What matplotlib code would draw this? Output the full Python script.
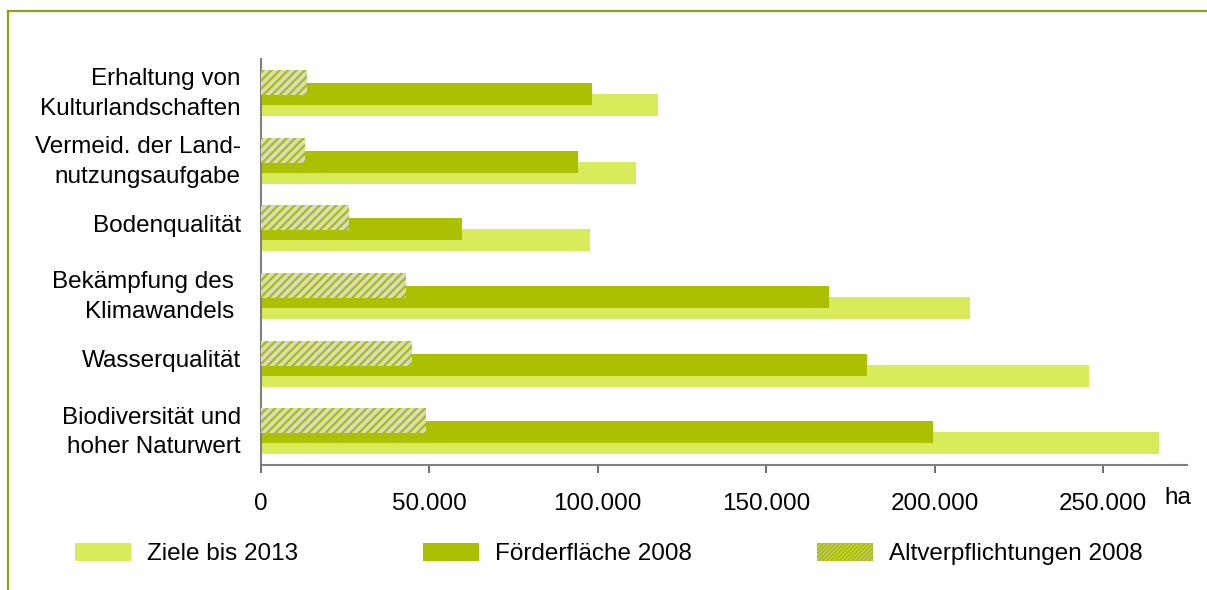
import matplotlib
matplotlib.use('Agg')
import matplotlib.pyplot as plt
from matplotlib.patches import Patch
from matplotlib.lines import Line2D
from matplotlib.ticker import FuncFormatter
from matplotlib.transforms import ScaledTranslation

# Data (ha)
categories = ['Erhaltung von\nKulturlandschaften',
              'Vermeid. der Land-\nnutzungsaufgabe',
              'Bodenqualität',
              'Bekämpfung des \nKlimawandels ',
              'Wasserqualität',
              'Biodiversität und\nhoher Naturwert']
ziele_2013 = [118000, 111300, 97700, 210500, 245800, 266600]
foerder_2008 = [98300, 94100, 59700, 168700, 179900, 199500]
altverpf_2008 = [13700, 13100, 26100, 43000, 44800, 49000]
series_labels = ['Ziele bis 2013', 'Förderfläche 2008', 'Altverpflichtungen 2008']
xticks = [0, 50000, 100000, 150000, 200000, 250000]

light = '#d9eb5a'
dark = '#abc000'
hatch_bg = '#d9d9cf'
frame_col = '#8fa01e'

plt.rcParams['font.family'] = ['Liberation Sans', 'DejaVu Sans']
plt.rcParams['font.size'] = 17.5
plt.rcParams['hatch.linewidth'] = 1.7
plt.rcParams['hatch.color'] = dark

fig = plt.figure(figsize=(12.07, 5.90), dpi=100)
ax = fig.add_axes([261 / 1207, 1 - 465 / 590, 926.2 / 1207, 406 / 590])

pos = list(range(len(categories)))
ax.barh([p + 0.18 for p in pos], ziele_2013, height=0.325, color=light, zorder=1)
ax.barh([p + 0.018 for p in pos], foerder_2008, height=0.325, color=dark, zorder=2)
ax.barh([p - 0.152 for p in pos], altverpf_2008, height=0.37, color=hatch_bg,
        hatch='////', edgecolor=dark, linewidth=0, zorder=3)

ax.set_ylim(5.5, -0.5)
ax.set_xlim(0, 275000)
ax.set_yticks(pos)
ax.set_yticklabels(categories, linespacing=1.45)
ax.set_xticks(xticks)
ax.xaxis.set_major_formatter(FuncFormatter(lambda v, p: f'{int(v):,}'.replace(',', '.')))

for s in ['top', 'right']:
    ax.spines[s].set_visible(False)
for s in ['left', 'bottom']:
    ax.spines[s].set_color('#808080')
    ax.spines[s].set_linewidth(1.5)
ax.tick_params(axis='y', length=0, pad=14.5)
ax.tick_params(axis='x', length=6, width=1.2, color='#555555', pad=14)

# labels sit a little above the bar group centre
shift = ScaledTranslation(0, 5 / 100, fig.dpi_scale_trans)
for lbl in ax.get_yticklabels():
    lbl.set_transform(lbl.get_transform() + shift)

fig.text(1164 / 1207, 1 - 498 / 590, 'ha', va='center', ha='left')

handles = [Patch(facecolor=light),
           Patch(facecolor=dark),
           Patch(facecolor=hatch_bg, hatch='////////', edgecolor=dark, linewidth=0)]
fig.legend(handles, series_labels, loc='center left', bbox_to_anchor=(75 / 1207, 1 - 554 / 590),
           ncol=3, frameon=False, handlelength=2.3, handleheight=0.75,
           handletextpad=0.66, columnspacing=5.15, borderaxespad=0, borderpad=0)

# olive frame around the chart (top and left edge)
fig.add_artist(Line2D([8 / 1207, 1], [1 - 11 / 590, 1 - 11 / 590], color=frame_col, lw=1.6))
fig.add_artist(Line2D([8 / 1207, 8 / 1207], [0, 1 - 11 / 590], color=frame_col, lw=1.6))

fig.savefig('out.png', dpi=100)
